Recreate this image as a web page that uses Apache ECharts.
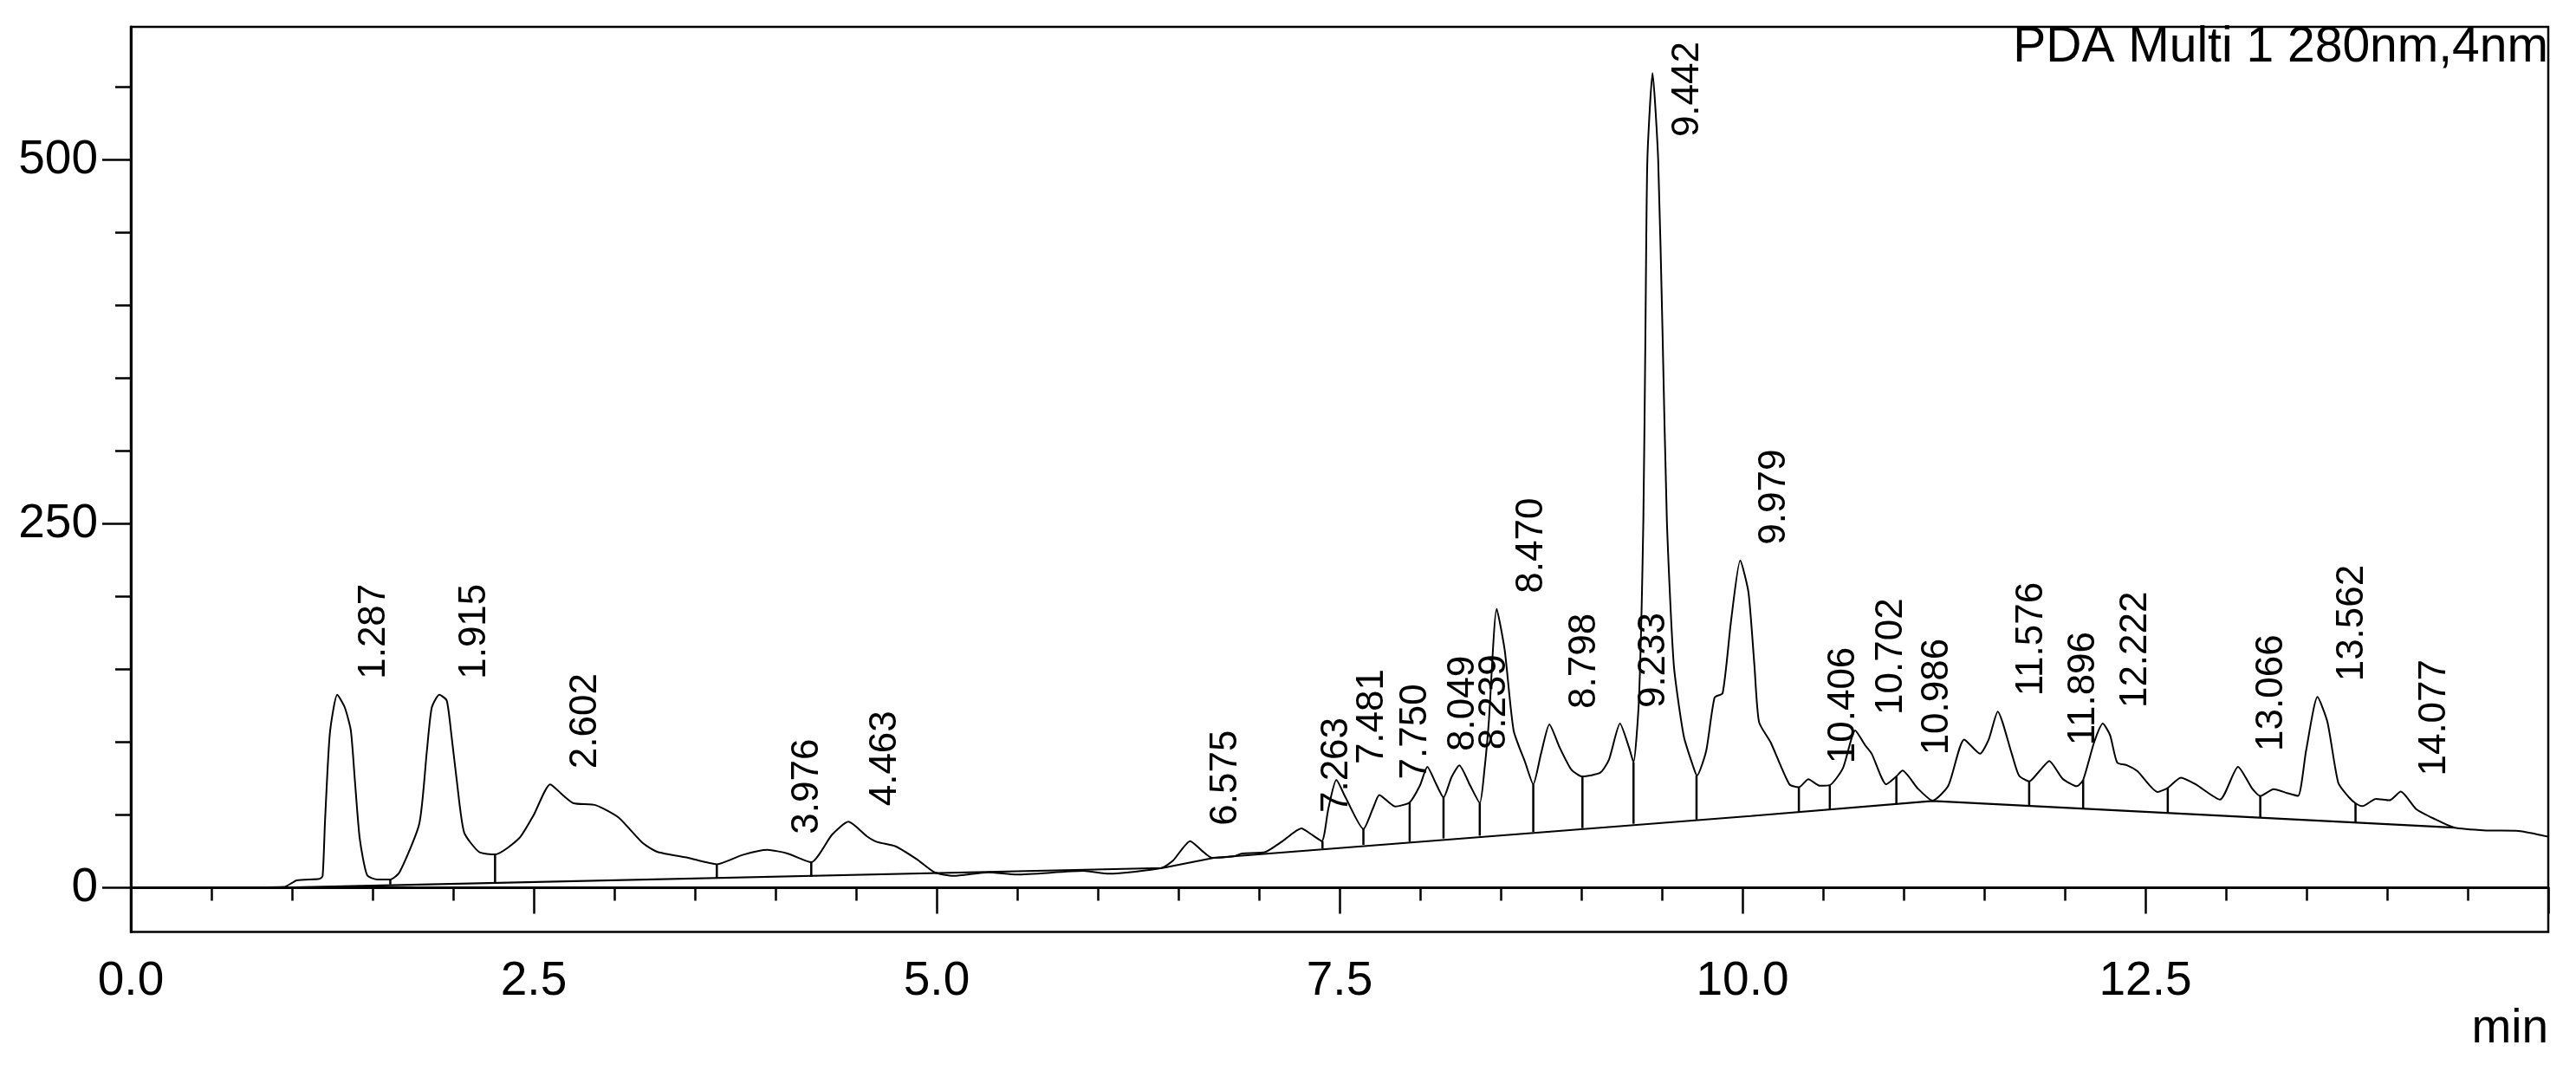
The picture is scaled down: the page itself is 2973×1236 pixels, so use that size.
<!DOCTYPE html>
<html>
<head>
<meta charset="utf-8">
<title>PDA Multi 1 280nm,4nm</title>
<script src="https://cdn.jsdelivr.net/npm/echarts@6/dist/echarts.min.js"></script>
<style>
  html, body { margin: 0; padding: 0; background: #fff; }
  #chart { width: 2973px; height: 1236px; }
</style>
</head>
<body>
<div id="chart"></div>
<script>
// chromatogram trace (min, mAU)
var curveTime = [0.00, 0.50, 0.95, 1.03, 1.17, 1.19, 1.205, 1.235, 1.281, 1.328, 1.365, 1.39, 1.42, 1.466, 1.53, 1.61,
  1.667, 1.79, 1.837, 1.867, 1.914, 1.96, 1.99, 2.022, 2.068, 2.161, 2.26, 2.41, 2.50, 2.602, 2.686, 2.747, 2.886,
  3.025, 3.179, 3.27, 3.457, 3.636, 3.796, 3.95, 4.074, 4.222, 4.351, 4.453, 4.566, 4.63, 4.745, 4.877, 4.987,
  5.104, 5.319, 5.498, 5.91, 6.07, 6.394, 6.466, 6.573, 6.645, 6.708, 6.842, 6.896, 7.04, 7.147, 7.263, 7.32,
  7.39, 7.43, 7.48, 7.537, 7.648, 7.707, 7.747, 7.845, 7.935, 7.998, 8.045, 8.096, 8.145, 8.195, 8.243, 8.311,
  8.37, 8.40, 8.426, 8.475, 8.525, 8.58, 8.652, 8.702, 8.75, 8.802, 8.867, 8.939, 9.007, 9.118, 9.172, 9.24,
  9.297, 9.324, 9.358, 9.385, 9.398, 9.41, 9.442, 9.477, 9.504, 9.531, 9.574, 9.636, 9.698, 9.718, 9.775, 9.827,
  9.877, 9.929, 9.986, 10.037, 10.074, 10.103, 10.175, 10.291, 10.35, 10.409, 10.48, 10.542, 10.623, 10.70,
  10.76, 10.802, 10.892, 10.955, 10.993, 11.089, 11.18, 11.277, 11.376, 11.474, 11.528, 11.584, 11.671, 11.716,
  11.779, 11.842, 11.904, 11.985, 12.075, 12.114, 12.182, 12.236, 12.281, 12.325, 12.388, 12.451, 12.576,
  12.639, 12.72, 12.812, 12.963, 13.075, 13.163, 13.213, 13.296, 13.38, 13.447, 13.497, 13.568, 13.63, 13.697,
  13.764, 13.804, 13.847, 13.931, 14.014, 14.085, 14.18, 14.298, 14.415, 14.615, 14.815, 15.0];
var curveSignal = [0, 0, 0.5, 5, 6, 8, 46, 106, 132.5, 123.6, 108, 74, 34, 8.6, 5.6, 5.6,
  10.5, 44, 94, 123.6, 132.5, 128.6, 104, 74, 38, 24.5, 22.8, 34, 50, 71, 63, 58, 56.6,
  48.3, 30.4, 24.5, 20.5, 16.1, 22.5, 26, 23.5, 17.5, 36.4, 45.3, 35.4, 31.4, 28.4, 19.5, 10.5,
  8.1, 10.5, 9.0, 11.5, 9.6, 13.5, 18.5, 32, 25.5, 20.5, 21.5, 23.5, 24.5, 32, 40.7, 37,
  32, 54, 74, 62, 40.3, 54.4, 63.7, 55.8, 58.6, 70, 83, 72, 62, 76, 84, 70,
  58.2, 82, 113.7, 191.5, 163, 108, 86, 71, 92, 112.2, 96, 81, 76.4, 79, 88, 112.7,
  96, 86, 130, 252, 381.6, 500, 559.6, 500, 381.6, 252, 153, 104, 82, 77, 94, 130.6,
  133.6, 183, 224.8, 203, 153, 113.7, 99.8, 71, 69, 74.5, 70, 70.4, 82, 108,
  98, 92, 71, 76.4, 80.4, 68, 59.8, 70, 101.8, 92, 101.8, 121, 92, 77,
  73, 80, 87, 75, 69.7, 74, 99.8, 112.7, 104.8, 86, 84, 80, 65.7,
  68.5, 75.6, 71, 60.5, 83, 68, 63, 67.7, 65, 63, 94, 131, 113.7, 72,
  62, 58, 56, 61, 60, 66, 54, 47, 41.3, 39.3, 39, 35];

// integration baseline
var baseTime = [0.95, 6.40, 6.72, 10.05, 11.18, 14.42];
var baseSignal = [0, 13.5, 20.5, 49.2, 59.5, 41.3];

// vertical drop lines between peaks
var dropTime = [1.61, 2.26, 3.636, 4.222, 7.394, 7.648, 7.935, 8.145, 8.37, 8.702, 9.007, 9.324, 9.715,
  10.35, 10.542, 10.955, 11.779, 12.114, 12.639, 13.213, 13.804];
var dropTop = [5.6, 22.8, 16.1, 17.5, 32, 40.3, 58.6, 62, 58.2, 71, 76.4, 86, 77,
  69, 70.4, 76.4, 73, 74, 68.5, 63, 58];
var dropBottom = [2.2, 3.6, 6.6, 7.6, 26.8, 29.4, 31.4, 33.8, 35.7, 38.3, 40.9, 43.9, 46.8,
  52.2, 53.8, 57.2, 56.6, 54.3, 51.3, 48.3, 44.7];

// retention-time labels and apex heights
var peakLabels = ["1.287", "1.915", "2.602", "3.976", "4.463", "6.575", "7.263", "7.481", "7.750", "8.049",
  "8.239", "8.470", "8.798", "9.233", "9.442", "9.979", "10.406", "10.702", "10.986", "11.576", "11.896",
  "12.222", "13.066", "13.562", "14.077"];
var peakHeight = [132.5, 132.5, 71, 26, 45.3, 32, 40.7, 74, 63.7, 83,
  84, 191.5, 112.2, 112.7, 559.6, 224.8, 74.5, 108, 80.4, 121, 87,
  112.7, 83, 131, 66];

var yMajor = [0, 250, 500];
var yMinor = [0, 50, 100, 150, 200, 250, 300, 350, 400, 450, 500, 550];

var FONT = "'Liberation Sans', Arial, sans-serif";
var GRID_TOP = 31;

var curveData = curveTime.map(function (t, i) { return [t, curveSignal[i]]; });
var baseData = baseTime.map(function (t, i) { return [t, baseSignal[i]]; });
var dropData = dropTime.map(function (t, i) { return [t, dropTop[i], dropBottom[i]]; });
var peakData = peakLabels.map(function (s, i) { return [parseFloat(s), peakHeight[i]]; });

var measureCtx = document.createElement("canvas").getContext("2d");
measureCtx.font = "44px " + FONT;

var myChart = echarts.init(document.getElementById("chart"));

var option = {
  animation: false,
  backgroundColor: "#fff",
  grid: {
    left: 151, top: GRID_TOP, width: 2790, height: 1044.5,
    show: true, borderColor: "#000", borderWidth: 2.5, backgroundColor: "transparent"
  },
  xAxis: {
    type: "value", min: 0, max: 15, interval: 2.5,
    axisLine: { lineStyle: { color: "#000", width: 3 } },
    axisTick: { length: 30, lineStyle: { color: "#000", width: 2.5 } },
    minorTick: { show: true, splitNumber: 5, length: 15, lineStyle: { color: "#000", width: 2.5 } },
    axisLabel: {
      showMaxLabel: false, margin: 30, fontSize: 55, color: "#000", fontFamily: FONT,
      formatter: function (v) { return v.toFixed(1); }
    },
    splitLine: { show: false }
  },
  yAxis: [{
    type: "value", min: -30.4, max: 591.3, position: "left",
    axisLine: { show: true, lineStyle: { color: "#000", width: 3 } },
    axisTick: { show: true, length: 33, customValues: yMajor, lineStyle: { color: "#000", width: 2.5 } },
    axisLabel: { customValues: yMajor, margin: 38, fontSize: 55, color: "#000", fontFamily: FONT },
    splitLine: { show: false }
  }, {
    type: "value", min: -30.4, max: 591.3, position: "left",
    axisLine: { show: false },
    axisTick: { show: true, length: 18, customValues: yMinor, lineStyle: { color: "#000", width: 2.5 } },
    axisLabel: { show: false },
    splitLine: { show: false }
  }],
  graphic: [{
    type: "text",
    style: { text: "PDA Multi 1 280nm,4nm", x: 2941, y: 55, align: "right", verticalAlign: "middle",
      font: "57px " + FONT, fill: "#000" }
  }, {
    type: "text",
    style: { text: "min", x: 2941, y: 1188, align: "right", verticalAlign: "middle",
      font: "55px " + FONT, fill: "#000" }
  }],
  series: [{
    name: "signal",
    type: "line",
    data: curveData,
    showSymbol: false,
    smooth: 0.2,
    lineStyle: { color: "#000", width: 2 },
    z: 3
  }, {
    name: "baseline",
    type: "line",
    data: baseData,
    showSymbol: false,
    lineStyle: { color: "#000", width: 2.2 },
    z: 2
  }, {
    name: "drops",
    type: "custom",
    data: dropData,
    renderItem: function (params, api) {
      var a = api.coord([api.value(0), api.value(1)]);
      var b = api.coord([api.value(0), api.value(2)]);
      return {
        type: "line",
        shape: { x1: a[0], y1: a[1], x2: b[0], y2: b[1] },
        style: { stroke: "#000", lineWidth: 2.5 }
      };
    },
    z: 2
  }, {
    name: "labels",
    type: "custom",
    data: peakData,
    renderItem: function (params, api) {
      var p = api.coord([api.value(0), api.value(1)]);
      var txt = peakLabels[params.dataIndex];
      var w = measureCtx.measureText(txt).width;
      var y = p[1] - 18;
      if (y - w < GRID_TOP + 17) y = GRID_TOP + 17 + w; // keep the tallest label inside the frame
      return {
        type: "text",
        x: p[0] + 41, y: y,
        rotation: Math.PI / 2,
        style: { text: txt, font: "44px " + FONT, fill: "#000", align: "left", verticalAlign: "middle" }
      };
    },
    z: 4
  }]
};

myChart.setOption(option);
</script>
</body>
</html>
